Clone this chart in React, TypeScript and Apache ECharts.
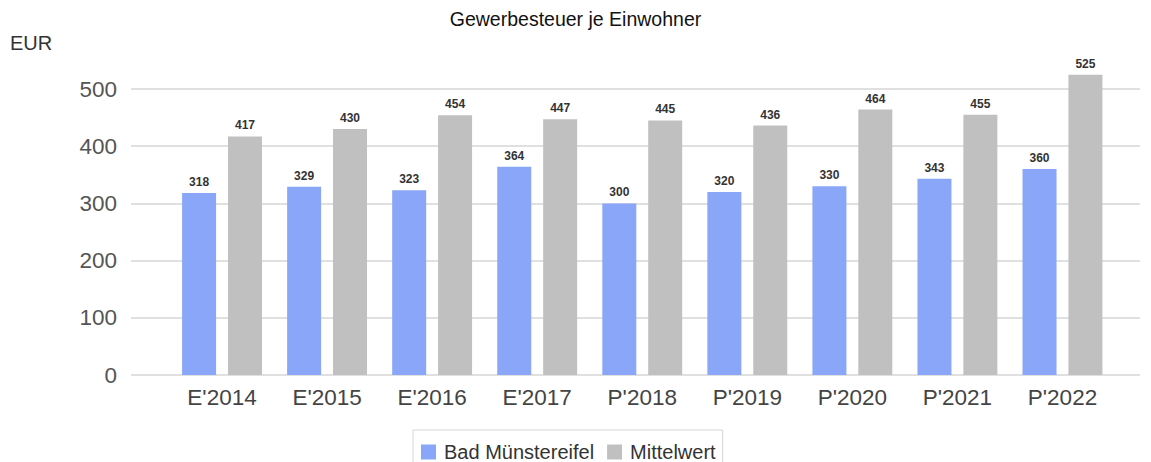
import React, { useEffect, useRef } from "react";
import * as echarts from "echarts";

const categories = ["E'2014", "E'2015", "E'2016", "E'2017", "P'2018", "P'2019", "P'2020", "P'2021", "P'2022"];
const badMuenstereifel = [318, 329, 323, 364, 300, 320, 330, 343, 360];
const mittelwert = [417, 430, 454, 447, 445, 436, 464, 455, 525];
const yTicks = [0, 100, 200, 300, 400, 500];

const FONT = "Liberation Sans, Arial, sans-serif";

export default function App() {
  const ref = useRef<HTMLDivElement>(null);
  useEffect(() => {
    if (!ref.current) return;
    const chart = echarts.init(ref.current, null, { renderer: "svg" });
    const label = {
      show: true,
      position: "top",
      distance: 5,
      color: "#333",
      fontSize: 12,
      fontWeight: "bold",
      fontFamily: FONT,
    };
    chart.setOption({
      animation: false,
      backgroundColor: "#fff",
      title: {
        text: "Gewerbesteuer je Einwohner",
        left: "center",
        top: 9,
        padding: 0,
        textStyle: { fontFamily: FONT, fontSize: 19.5, fontWeight: "normal", color: "#111" },
      },
      graphic: [
        {
          type: "text",
          left: 10,
          top: 33,
          style: { text: "EUR", fontFamily: FONT, fontSize: 20, fill: "#333" },
        },
      ],
      legend: {
        top: 430,
        left: 413,
        itemWidth: 15,
        itemHeight: 15,
        itemGap: 13,
        padding: [12, 7, 12, 8],
        borderColor: "#d6d6d6",
        borderWidth: 1,
        icon: "rect",
        textStyle: { fontFamily: FONT, fontSize: 20, color: "#333", padding: [0, 0, 0, 3] },
        data: ["Bad Münstereifel", "Mittelwert"],
      },
      grid: [
        { left: 131, right: 11, top: 89, bottom: 87 },
        { left: 169.5, right: 36, top: 89, bottom: 87 },
      ],
      xAxis: [
        { type: "value", gridIndex: 0, show: false, min: 0, max: 1 },
        {
          type: "category",
          gridIndex: 1,
          data: categories,
          axisLine: { show: false },
          axisTick: { show: false },
          axisLabel: { fontFamily: FONT, fontSize: 22.5, color: "#444", margin: 11 },
        },
      ],
      yAxis: [
        {
          type: "value",
          gridIndex: 0,
          min: yTicks[0],
          max: yTicks[yTicks.length - 1],
          interval: 100,
          axisLine: { show: false },
          axisTick: { show: false },
          axisLabel: { fontFamily: FONT, fontSize: 22.5, color: "#555", margin: 14 },
          splitLine: { lineStyle: { color: "#e0e0e0", width: 2 } },
        },
        {
          type: "value",
          gridIndex: 1,
          min: yTicks[0],
          max: yTicks[yTicks.length - 1],
          interval: 100,
          show: false,
        },
      ],
      series: [
        {
          name: "Bad Münstereifel",
          type: "bar",
          xAxisIndex: 1,
          yAxisIndex: 1,
          data: badMuenstereifel,
          barWidth: 34,
          barGap: "35%",
          clip: false,
          itemStyle: { color: "#89a6f8" },
          label,
        },
        {
          name: "Mittelwert",
          type: "bar",
          xAxisIndex: 1,
          yAxisIndex: 1,
          data: mittelwert,
          barWidth: 34,
          barGap: "35%",
          clip: false,
          itemStyle: { color: "#c0c0c0" },
          label,
        },
      ],
    });
    return () => chart.dispose();
  }, []);
  return (
    <div
      ref={ref}
      style={{ position: "fixed", left: 0, top: 0, width: 1151, height: 462 }}
    />
  );
}
